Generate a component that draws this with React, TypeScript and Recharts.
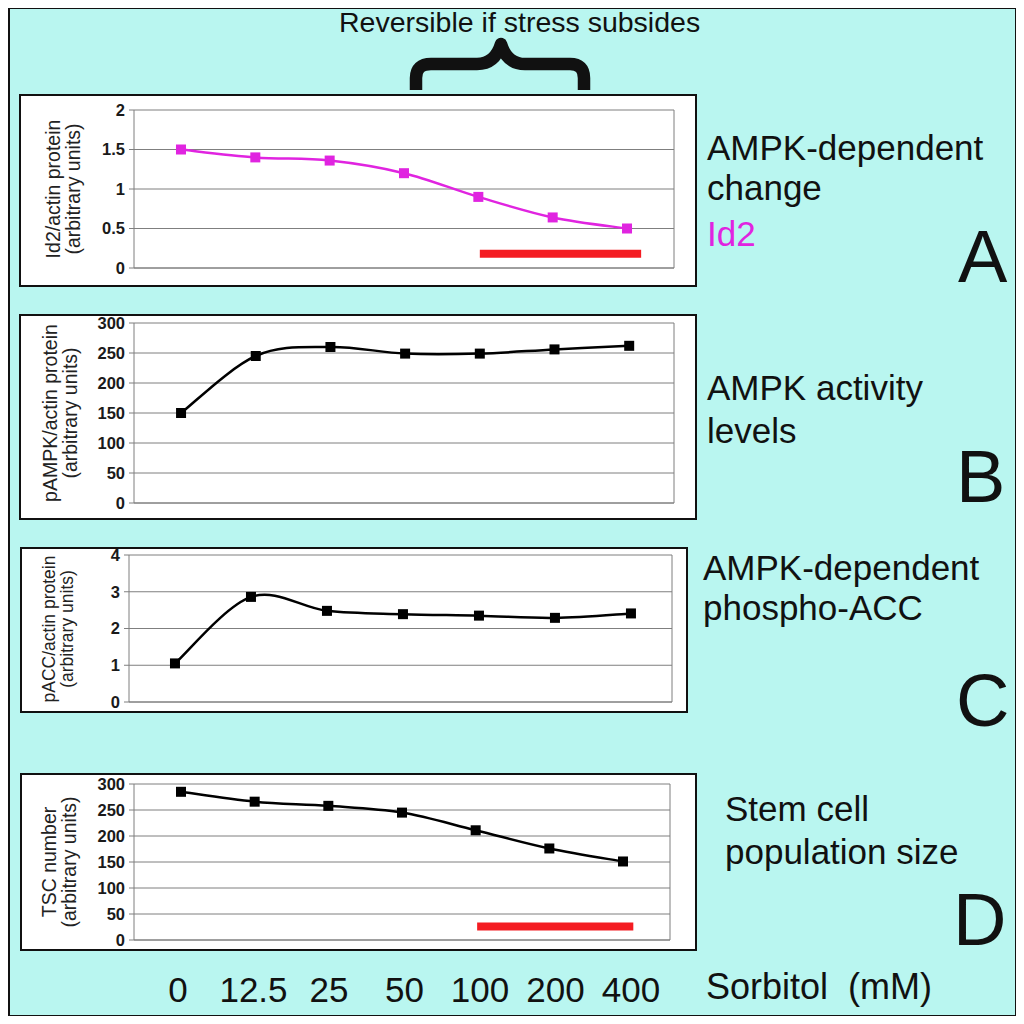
import React from 'react'
import { LineChart, Line, XAxis, YAxis, CartesianGrid, ReferenceLine } from 'recharts'

// Sorbitol concentrations (mM), shared by all four panels
const sorbitol = ['0', '12.5', '25', '50', '100', '200', '400']

// panel values
const id2 = [1.5, 1.4, 1.36, 1.2, 0.9, 0.64, 0.5]
const pampk = [150, 245, 260, 249, 249, 256, 262]
const pacc = [1.05, 2.86, 2.48, 2.39, 2.35, 2.29, 2.41]
const tsc = [285, 266, 258, 245, 211, 176, 151]

const id2Ticks = [0, 0.5, 1, 1.5, 2]
const pampkTicks = [0, 50, 100, 150, 200, 250, 300]
const paccTicks = [0, 1, 2, 3, 4]
const tscTicks = [0, 50, 100, 150, 200, 250, 300]

// red "stress" bars: category span and height
const barA = [4.02, 6.19]
const barAY = 0.18
const barD = [4.02, 6.14]
const barDY = 26

const FONT = 'Arial, "Liberation Sans", Helvetica, sans-serif'
const GRID = '#7f7f7f'
const MAGENTA = '#e024e0'
const LIFT = 14 // chart svg starts above the frame so top tick labels are not clipped

// Excel-like smoothed line (cardinal bezier, overshoots like the original)
const excelCurve: any = (context: any) => {
  let pts: number[][] = []
  return {
    areaStart() {},
    areaEnd() {},
    lineStart() {
      pts = []
    },
    point(x: number, y: number) {
      pts.push([+x, +y])
    },
    lineEnd() {
      if (!pts.length) return
      context.moveTo(pts[0][0], pts[0][1])
      for (let i = 0; i < pts.length - 1; i++) {
        const p0 = pts[i - 1] || pts[i]
        const p1 = pts[i]
        const p2 = pts[i + 1]
        const p3 = pts[i + 2] || p2
        context.bezierCurveTo(
          p1[0] + (p2[0] - p0[0]) / 6,
          p1[1] + (p2[1] - p0[1]) / 6,
          p2[0] - (p3[0] - p1[0]) / 6,
          p2[1] - (p3[1] - p1[1]) / 6,
          p2[0],
          p2[1]
        )
      }
    },
  }
}

const sixths = (lo: number, hi: number) =>
  Array.from({ length: 7 }, (_, k) => lo + (k * (hi - lo)) / 6)

const squareDot = (color: string) => (p: any) => (
  <rect key={`dot-${p.index}`} x={p.cx - 5} y={p.cy - 5} width={10} height={10} fill={color} />
)

const Panel = ({
  box,
  margin,
  chartH,
  values,
  yTicks,
  xDom,
  color,
  title,
  titlePos,
  titleSize = 19.5,
  bar,
  barY,
  labels,
}: any) => {
  const data = sorbitol.map((s, i) => ({ i, s, v: values[i] }))
  const innerW = box.w - 4
  const innerH = box.h - 4
  const yMax = yTicks[yTicks.length - 1]
  return (
    <div
      style={{
        position: 'absolute',
        left: box.x,
        top: box.y,
        width: box.w,
        height: box.h,
        boxSizing: 'border-box',
        border: '2px solid #111',
        background: '#fff',
      }}
    >
      <div
        style={{
          position: 'absolute',
          left: titlePos[0],
          top: titlePos[1],
          transform: 'translate(-50%, -50%) rotate(-90deg)',
          whiteSpace: 'nowrap',
          textAlign: 'center',
          fontFamily: FONT,
          fontSize: titleSize,
          lineHeight: `${titleSize}px`,
          color: '#222',
        }}
      >
        {title[0]}
        <br />
        {title[1]}
      </div>
      <div style={{ position: 'absolute', left: 0, top: -LIFT }}>
        <LineChart
          width={innerW}
          height={(chartH || innerH) + LIFT}
          data={data}
          margin={{ ...margin, top: margin.top + LIFT }}
        >
          <CartesianGrid vertical={false} stroke={GRID} strokeWidth={1} />
          <XAxis
            type='number'
            dataKey='i'
            domain={xDom}
            allowDataOverflow
            ticks={sixths(xDom[0], xDom[1])}
            tick={false}
            tickSize={5}
            height={1}
            stroke={GRID}
          />
          {labels && (
            <XAxis
              xAxisId='lab'
              type='number'
              dataKey='i'
              domain={[-0.583, 6.517]}
              allowDataOverflow
              ticks={[0, 1, 2, 3, 4, 5, 6]}
              interval={0}
              axisLine={false}
              tickLine={false}
              tickSize={0}
              tickMargin={0}
              height={60}
              tick={(t: any) => (
                <text
                  key={`lab-${t.index}`}
                  x={t.x}
                  y={t.y + 61}
                  textAnchor='middle'
                  fontFamily={FONT}
                  fontSize={35}
                  fill='#111'
                >
                  {sorbitol[t.payload.value]}
                </text>
              )}
            />
          )}
          <YAxis
            type='number'
            domain={[0, yMax]}
            ticks={yTicks}
            interval={0}
            width={45}
            tickSize={5}
            tickMargin={4}
            stroke={GRID}
            tick={{ fill: '#1a1a1a', fontSize: 16.5, fontWeight: 'bold', fontFamily: FONT }}
          />
          <ReferenceLine x={xDom[1]} stroke={GRID} />
          {bar && (
            <ReferenceLine
              segment={[
                { x: bar[0], y: barY },
                { x: bar[1], y: barY },
              ]}
              stroke='#f41c22'
              strokeWidth={8}
            />
          )}
          <Line
            dataKey='v'
            type={excelCurve}
            stroke={color}
            strokeWidth={2.5}
            dot={squareDot(color)}
            activeDot={false}
            isAnimationActive={false}
          />
        </LineChart>
      </div>
    </div>
  )
}

const T = ({ x, y, size = 35, color = '#111', children }: any) => (
  <div
    style={{
      position: 'absolute',
      left: x,
      top: y - size * 0.905,
      fontFamily: FONT,
      fontSize: size,
      lineHeight: `${size}px`,
      color,
      whiteSpace: 'nowrap',
    }}
  >
    {children}
  </div>
)

const App = () => {
  return (
    <div style={{ position: 'relative', width: 1024, height: 1024, margin: -8, background: '#fff', overflow: 'hidden' }}>
      <div
        style={{
          position: 'absolute',
          left: 7,
          top: 6,
          width: 1011,
          height: 1012,
          boxSizing: 'border-box',
          border: '3px solid #111',
          background: '#b9f6f0',
        }}
      />
      <T x={339} y={34} size={28.5}>
        Reversible if stress subsides
      </T>
      <svg style={{ position: 'absolute', left: 0, top: 0 }} width={1024} height={100}>
        <path
          d='M 416 90 L 416 78 Q 416 64 431 64 L 477 64 Q 495 64 501 44 Q 507 64 525 64 L 570 64 Q 584 64 584 78 L 584 90'
          fill='none'
          stroke='#111'
          strokeWidth={12.5}
          strokeLinejoin='round'
        />
      </svg>

      <Panel
        box={{ x: 19, y: 94, w: 678, h: 193 }}
        margin={{ top: 14, right: 21, bottom: 16, left: 68 }}
        values={id2}
        yTicks={id2Ticks}
        xDom={[-0.632, 6.632]}
        color={MAGENTA}
        title={['Id2/actin protein', '(arbitrary units)']}
        titlePos={[42, 93]}
        bar={barA}
        barY={barAY}
      />
      <Panel
        box={{ x: 19, y: 314, w: 678, h: 206 }}
        margin={{ top: 7, right: 21, bottom: 14, left: 68 }}
        values={pampk}
        yTicks={pampkTicks}
        xDom={[-0.63, 6.6]}
        color='#000'
        title={['pAMPK/actin protein', '(arbitrary units)']}
        titlePos={[39, 97]}
      />
      <Panel
        box={{ x: 20, y: 547, w: 668, h: 166 }}
        margin={{ top: 6, right: 14, bottom: 8, left: 62 }}
        values={pacc}
        yTicks={paccTicks}
        xDom={[-0.605, 6.54]}
        color='#000'
        title={['pACC/actin protein', '(arbitrary units)']}
        titlePos={[36, 80]}
        titleSize={17.5}
      />
      <Panel
        box={{ x: 20, y: 773, w: 677, h: 178 }}
        margin={{ top: 9, right: 25, bottom: 18, left: 67 }}
        chartH={244}
        values={tsc}
        yTicks={tscTicks}
        xDom={[-0.638, 6.638]}
        color='#000'
        title={['TSC number', '(arbitrary units)']}
        titlePos={[37, 87]}
        bar={barD}
        barY={barDY}
        labels
      />

      <T x={707} y={162}>AMPK-dependent</T>
      <T x={707} y={202}>change</T>
      <T x={707} y={248} color={MAGENTA}>Id2</T>
      <T x={958} y={287} size={74}>A</T>

      <T x={707} y={402}>AMPK activity</T>
      <T x={707} y={445}>levels</T>
      <T x={956} y={507} size={74}>B</T>

      <T x={703} y={582}>AMPK-dependent</T>
      <T x={703} y={622}>phospho-ACC</T>
      <T x={956} y={731} size={74}>C</T>

      <T x={725} y={823}>Stem cell</T>
      <T x={725} y={866}>population size</T>
      <T x={953} y={950} size={74}>D</T>

      <T x={706} y={1002} size={36}>Sorbitol&nbsp;&nbsp;(mM)</T>
    </div>
  )
}

export default App
